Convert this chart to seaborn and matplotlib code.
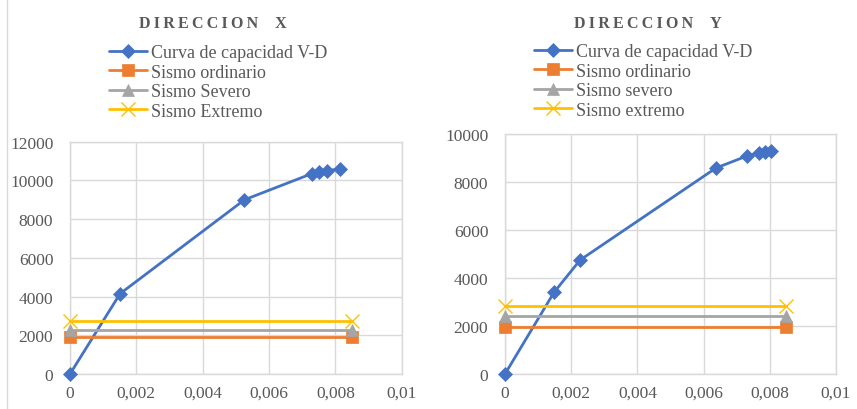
import matplotlib
matplotlib.use("Agg")
import matplotlib.pyplot as plt
from matplotlib.lines import Line2D
from matplotlib.ticker import FuncFormatter, MultipleLocator
import numpy as np
import pandas as pd
import seaborn as sns

# Capacity curve, direction X (drift, base shear)
x_drift = [0.0, 0.00151, 0.00526, 0.00729, 0.00751, 0.00774, 0.00814]
x_shear = [0, 4150, 9000, 10350, 10420, 10500, 10600]

# Capacity curve, direction Y
y_drift = [0.0, 0.00148, 0.00227, 0.00637, 0.00732, 0.00767, 0.00786, 0.00804]
y_shear = [0, 3400, 4750, 8580, 9090, 9220, 9260, 9300]

# Seismic demand levels (horizontal reference lines)
demand_span = [0.0, 0.0085]
x_levels = {"Sismo ordinario": 1900, "Sismo Severo": 2290, "Sismo Extremo": 2720}
y_levels = {"Sismo ordinario": 1950, "Sismo severo": 2400, "Sismo extremo": 2850}

curve_label = "Curva de capacidad V-D"
titles = ["DIRECCION X", "DIRECCION Y"]
y_max = [12000, 10000]

BLUE, ORANGE, GRAY, YELLOW = "#4472C4", "#ED7D31", "#A5A5A5", "#FFC000"
TEXT = "#595959"
GRID = "#D9D9D9"

sns.set_theme(style="whitegrid")
plt.rcParams["font.family"] = ["Liberation Serif", "DejaVu Serif"]

fig = plt.figure(figsize=(8.57, 4.10), dpi=100)
fig.patch.set_facecolor("white")

W, H = 857, 410


def px_axes(x0, x1, ytop, ybot):
    return [x0 / W, (H - ybot) / H, (x1 - x0) / W, (ybot - ytop) / H]


ax_specs = [px_axes(70, 401.7, 142.7, 375), px_axes(505, 836, 135, 375)]
legend_pos = [(109 / W, 1 - 45 / H), (534 / W, 1 - 44 / H)]
title_pos = [(213 / W, 1 - 24 / H), (648 / W, 1 - 24 / H)]

series_sets = [
    (x_drift, x_shear, x_levels),
    (y_drift, y_shear, y_levels),
]

styles = [
    dict(color=BLUE, marker="D", markersize=7.5),
    dict(color=ORANGE, marker="s", markersize=8),
    dict(color=GRAY, marker="^", markersize=8.5),
    dict(color=YELLOW, marker="x", markersize=10, markeredgewidth=1.0),
]

comma_fmt = FuncFormatter(lambda v, p: "0" if abs(v) < 1e-12 else f"{v:.3f}".rstrip("0").replace(".", ","))

for i, (drift, shear, levels) in enumerate(series_sets):
    ax = fig.add_axes(ax_specs[i])
    frames = [pd.DataFrame({"d": drift, "v": shear, "serie": curve_label})]
    for name, val in levels.items():
        frames.append(pd.DataFrame({"d": demand_span, "v": [val, val], "serie": name}))
    df = pd.concat(frames, ignore_index=True)
    names = [curve_label] + list(levels.keys())

    handles = []
    for name, st in zip(names, styles):
        sub = df[df["serie"] == name]
        sns.lineplot(data=sub, x="d", y="v", ax=ax, color=st["color"], lw=2.0,
                     marker=st["marker"], markersize=st["markersize"],
                     markeredgecolor=st["color"], markeredgewidth=st.get("markeredgewidth", 0.5),
                     sort=False, estimator=None, legend=False, clip_on=False, zorder=3)
        handles.append(Line2D([], [], color=st["color"], lw=2.0, marker=st["marker"],
                              markersize=st["markersize"], markeredgecolor=st["color"],
                              markeredgewidth=st.get("markeredgewidth", 0.5)))

    ax.set_xlim(0, 0.01)
    ax.set_ylim(0, y_max[i])
    ax.xaxis.set_major_locator(MultipleLocator(0.002))
    ax.yaxis.set_major_locator(MultipleLocator(2000))
    ax.xaxis.set_major_formatter(comma_fmt)
    ax.set_xlabel("")
    ax.set_ylabel("")
    ax.set_facecolor("white")
    ax.grid(True, color=GRID, lw=1.0)
    for s in ax.spines.values():
        s.set_color(GRID)
        s.set_linewidth(1.0)
    ax.tick_params(axis="both", colors=TEXT, labelsize=12.5, length=0)
    ax.tick_params(axis="y", pad=12)
    ax.tick_params(axis="x", pad=8)

    fig.legend(handles, names, loc="upper left", bbox_to_anchor=legend_pos[i],
               frameon=False, fontsize=13, labelcolor=TEXT, handlelength=2.1,
               handletextpad=0.2, labelspacing=0.14, borderpad=0, borderaxespad=0)

    spaced = "\u2009".join(titles[i]).replace("\u2009 \u2009", "\u2009\u2009 \u2009\u2009")
    fig.text(title_pos[i][0], title_pos[i][1], spaced, ha="center", va="center",
             fontsize=11.5, fontweight="bold", color=TEXT)

# Chart area border on the left edge
fig.add_artist(Line2D([7 / W, 7 / W], [0, 1], color=GRID, lw=1.0))

fig.savefig("out.png", dpi=100, facecolor="white")
